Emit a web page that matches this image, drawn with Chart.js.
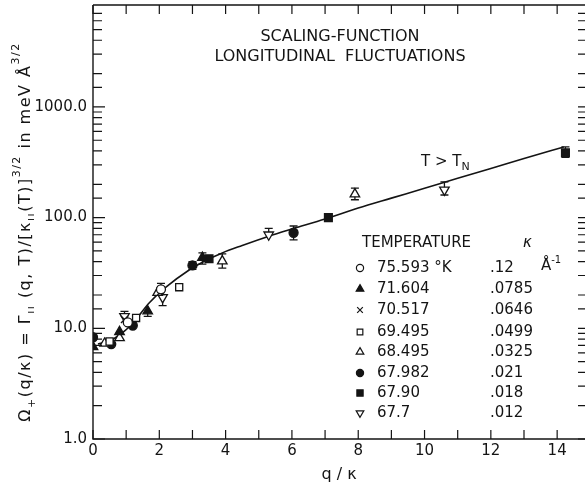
<!DOCTYPE html>
<html>
<head>
<meta charset="utf-8">
<script src="https://cdn.jsdelivr.net/npm/chart.js@4.4.1/dist/chart.umd.min.js"></script>
<style>
  body { margin: 0; background: #fff; }
</style>
</head>
<body>
<canvas id="grafico" width="585" height="487"></canvas>
<script>
/*------------------------------------------Dados---------------------------------------------------------------*/

const rotulosTemp = ['75.593 °K', '71.604', '70.517', '69.495', '68.495', '67.982', '67.90', '67.7'];
const rotulosKappa = ['.12', '.0785', '.0646', '.0499', '.0325', '.021', '.018', '.012'];
const rotulosX = [0, 2, 4, 6, 8, 10, 12, 14];

// 75.593 K  (círculo aberto)
const q75593 = [1.05, 2.05];
const v75593 = [11.3, 22.5];
const inf75593 = [null, null];
const sup75593 = [null, 25.5];

// 71.604 K  (triângulo cheio)
const q71604 = [0, 0.8, 1.65, 3.3];
const v71604 = [6.8, 9.3, 14.3, 43.5];
const inf71604 = [null, null, 12.8, 38];
const sup71604 = [null, null, null, 48];

// 70.517 K  (x)
const q70517 = [0.95, 2.05];
const v70517 = [12.0, 21.5];
const inf70517 = [null, null];
const sup70517 = [null, null];

// 69.495 K  (quadrado aberto)
const q69495 = [0.5, 1.3, 2.6];
const v69495 = [7.6, 12.4, 23.5];
const inf69495 = [null, null, null];
const sup69495 = [null, null, null];

// 68.495 K  (triângulo aberto)
const q68495 = [0.35, 0.8, 1.95, 3.9, 7.9];
const v68495 = [7.3, 8.2, 21, 40.5, 163];
const inf68495 = [null, null, null, 35, 145];
const sup68495 = [null, null, null, 47, 185];

// 67.982 K  (círculo cheio)
const q67982 = [0, 0.55, 1.2, 3.0, 6.05];
const v67982 = [8.3, 7.2, 10.6, 37, 73];
const inf67982 = [null, null, null, 34, 63];
const sup67982 = [null, null, null, 40, 84];

// 67.90 K  (quadrado cheio)
const q6790 = [3.5, 7.1, 14.25];
const v6790 = [42.5, 100, 385];
const inf6790 = [null, null, 350];
const sup6790 = [null, null, 435];

// 67.7 K  (triângulo invertido aberto)
const q677 = [0.95, 2.1, 5.3, 10.6];
const v677 = [12.8, 19, 70, 178];
const inf677 = [null, 16, null, 160];
const sup677 = [14.2, null, 80, 210];

// curva T > TN
const qCurva = [0.15, 0.5, 0.8, 1.15, 1.7, 2.2, 2.9, 3.4, 3.9, 4.5, 5.3, 6, 7, 8, 9, 10, 11, 12, 13, 14.2];
const vCurva = [7.2, 7.7, 8.7, 10.7, 17, 23.5, 33.6, 41, 48, 56, 68, 79, 97, 122, 150, 184, 227, 278, 342, 434];

/*------------------------------------------Estilos----------------------------------------------*/

const tinta = '#141414';
const fonte = 'DejaVu Sans';

const estilos = [
    { ps: 'circle', cheio: false, r: 4.5, rot: 0 },
    { ps: 'triangle', cheio: true, r: 5.5, rot: 0 },
    { ps: 'crossRot', cheio: false, r: 5, rot: 0 },
    { ps: 'rect', cheio: false, r: 5, rot: 0 },
    { ps: 'triangle', cheio: false, r: 5.5, rot: 0 },
    { ps: 'circle', cheio: true, r: 4.5, rot: 0 },
    { ps: 'rect', cheio: true, r: 5.5, rot: 0 },
    { ps: 'triangle', cheio: false, r: 5.5, rot: 180 }
];

const series = [
    [q75593, v75593, inf75593, sup75593],
    [q71604, v71604, inf71604, sup71604],
    [q70517, v70517, inf70517, sup70517],
    [q69495, v69495, inf69495, sup69495],
    [q68495, v68495, inf68495, sup68495],
    [q67982, v67982, inf67982, sup67982],
    [q6790, v6790, inf6790, sup6790],
    [q677, v677, inf677, sup677]
];

let datasets = series.map((s, i) => {
    const e = estilos[i];
    return {
        label: rotulosTemp[i],
        data: s[0].map((q, j) => ({ x: q, y: s[1][j] })),
        inf: s[2],
        sup: s[3],
        pointStyle: e.ps,
        rotation: e.rot,
        radius: e.r,
        pointRadius: e.r,
        backgroundColor: e.cheio ? tinta : '#ffffff',
        borderColor: tinta,
        borderWidth: 1.3,
        order: 0
    };
});

datasets.push({
    type: 'line',
    label: 'curva',
    data: qCurva.map((q, j) => ({ x: q, y: vCurva[j] })),
    borderColor: tinta,
    borderWidth: 1.6,
    pointRadius: 0,
    cubicInterpolationMode: 'monotone',
    order: 10
});

/*------------------------------------------Plugin: moldura, barras de erro e textos----------------------------------------------*/

function textoRico(ctx, partes, x, y, alinhar) {
    let total = 0;
    partes.forEach(p => {
        ctx.font = p[1] + 'px "' + fonte + '"';
        total += ctx.measureText(p[0]).width;
    });
    let cx = alinhar === 'center' ? x - total / 2 : x;
    partes.forEach(p => {
        ctx.font = p[1] + 'px "' + fonte + '"';
        ctx.fillText(p[0], cx, y + p[2]);
        cx += ctx.measureText(p[0]).width;
    });
}

const moldura = {
    id: 'moldura',
    beforeDatasetsDraw(chart) {
        const ctx = chart.ctx;
        const sx = chart.scales.x, sy = chart.scales.y;
        ctx.save();
        ctx.strokeStyle = tinta;
        ctx.lineWidth = 1.3;
        chart.data.datasets.forEach(ds => {
            if (!ds.inf) return;
            ds.data.forEach((p, j) => {
                const px = sx.getPixelForValue(p.x);
                const lo = ds.inf[j], hi = ds.sup[j];
                ctx.beginPath();
                if (hi) {
                    const py = sy.getPixelForValue(hi);
                    ctx.moveTo(px, sy.getPixelForValue(p.y));
                    ctx.lineTo(px, py);
                    ctx.moveTo(px - 4, py);
                    ctx.lineTo(px + 4, py);
                }
                if (lo) {
                    const py = sy.getPixelForValue(lo);
                    ctx.moveTo(px, sy.getPixelForValue(p.y));
                    ctx.lineTo(px, py);
                    ctx.moveTo(px - 4, py);
                    ctx.lineTo(px + 4, py);
                }
                ctx.stroke();
            });
        });
        ctx.restore();
    },
    afterDraw(chart) {
        const ctx = chart.ctx;
        const a = chart.chartArea;
        const sx = chart.scales.x, sy = chart.scales.y;
        ctx.save();
        ctx.strokeStyle = tinta;
        ctx.fillStyle = tinta;
        ctx.lineWidth = 1.4;

        // eixos
        ctx.beginPath();
        ctx.moveTo(a.left, a.top);
        ctx.lineTo(a.right, a.top);
        ctx.moveTo(a.left, a.top);
        ctx.lineTo(a.left, a.bottom);
        ctx.lineTo(a.right, a.bottom);
        ctx.stroke();

        // marcas para dentro
        ctx.lineWidth = 1.2;
        ctx.beginPath();
        sx.ticks.forEach(t => {
            const px = sx.getPixelForValue(t.value);
            ctx.moveTo(px, a.bottom);
            ctx.lineTo(px, a.bottom - 9);
            ctx.moveTo(px, a.top);
            ctx.lineTo(px, a.top + 9);
        });
        sy.ticks.forEach(t => {
            const l = Math.log10(t.value);
            const maior = Math.abs(l - Math.round(l)) < 1e-9;
            const py = sy.getPixelForValue(t.value);
            if (py < a.top + 2) return;
            ctx.moveTo(a.left, py);
            ctx.lineTo(a.left + (maior ? 12 : 9), py);
            ctx.moveTo(a.right, py);
            ctx.lineTo(a.right - 7, py);
        });
        ctx.stroke();

        // títulos
        ctx.textBaseline = 'middle';
        ctx.textAlign = 'center';
        ctx.font = '16px "' + fonte + '"';
        ctx.fillText('SCALING-FUNCTION', 340, 37);
        ctx.fillText('LONGITUDINAL  FLUCTUATIONS', 340, 57);

        ctx.textAlign = 'left';
        textoRico(ctx, [['T > T', 15, 0], ['N', 11, 5]], 421, 162, 'left');

        // legenda
        ctx.font = '15px "' + fonte + '"';
        ctx.fillText('TEMPERATURE', 362, 243);
        ctx.font = 'italic 15px "' + fonte + '"';
        ctx.fillText('κ', 523, 243);
        textoRico(ctx, [['Å', 15, 0], ['-1', 10, -6]], 541, 266, 'left');

        const linhas = [268, 289, 310, 332, 352, 373, 393, 413];
        estilos.forEach((e, i) => {
            ctx.fillStyle = e.cheio ? tinta : '#ffffff';
            ctx.strokeStyle = tinta;
            Chart.helpers.drawPoint(ctx, {
                pointStyle: e.ps, rotation: e.rot, radius: e.r * 0.8, borderWidth: 1.2
            }, 360, linhas[i]);
            ctx.fillStyle = tinta;
            ctx.font = '15px "' + fonte + '"';
            ctx.fillText(rotulosTemp[i], 377, linhas[i]);
            ctx.fillText(rotulosKappa[i], 490, linhas[i]);
        });

        // título do eixo y (rotacionado)
        ctx.translate(30, 232);
        ctx.rotate(-Math.PI / 2);
        ctx.textBaseline = 'alphabetic';
        ctx.letterSpacing = '1.5px';
        textoRico(ctx, [
            ['Ω', 16, 0], ['+', 11, 5], ['(q/κ) = Γ', 16, 0], ['ıı', 11, 4],
            [' (q, T)/[κ', 16, 0], ['ıı', 11, 4], ['(T)]', 16, 0], ['3/2', 11, -10],
            [' in meV Å', 16, 0], ['3/2', 11, -11]
        ], 0, 0, 'center');
        ctx.restore();
    }
};

/*------------------------------------------Gráfico----------------------------------------------*/

let ctx = document.getElementById('grafico').getContext('2d');
let grafico = new Chart(ctx, {
    type: 'scatter',
    data: { datasets: datasets },
    options: {
        responsive: false,
        animation: false,
        layout: { autoPadding: false, padding: { top: 5, right: 0, left: 0, bottom: 0 } },
        plugins: {
            legend: { display: false },
            tooltip: { enabled: false }
        },
        scales: {
            x: {
                type: 'linear',
                min: 0,
                max: 14.84,
                afterFit: s => { s.height = 48; s.paddingLeft = 0; s.paddingRight = 0; },
                grid: { display: false, drawTicks: false },
                border: { display: false },
                ticks: {
                    stepSize: 1,
                    autoSkip: false,
                    includeBounds: false,
                    maxRotation: 0,
                    padding: 3,
                    color: tinta,
                    font: { family: fonte, size: 15 },
                    callback: v => rotulosX.includes(v) ? String(v) : ''
                },
                title: {
                    display: true,
                    text: 'q / κ',
                    color: tinta,
                    padding: { top: 0, bottom: 3 },
                    font: { family: fonte, size: 16 }
                }
            },
            y: {
                type: 'logarithmic',
                min: 1,
                max: 8330,
                afterFit: s => { s.width = 93; s.paddingTop = 0; s.paddingBottom = 0; },
                grid: { display: false, drawTicks: false },
                border: { display: false },
                ticks: {
                    autoSkip: false,
                    padding: 6,
                    color: tinta,
                    font: { family: fonte, size: 15 },
                    callback: v => {
                        const l = Math.log10(v);
                        return Math.abs(l - Math.round(l)) < 1e-9 ? v.toFixed(1) : '';
                    }
                }
            }
        }
    },
    plugins: [moldura]
});
</script>
</body>
</html>
